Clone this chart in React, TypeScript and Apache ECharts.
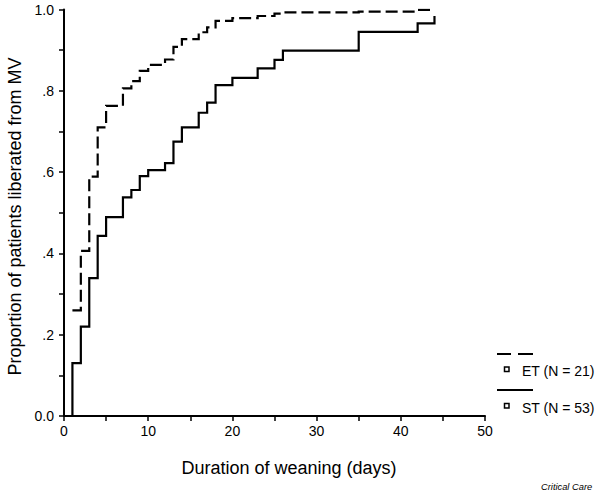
import React, { useEffect, useRef } from "react";
import * as echarts from "echarts";

// Kaplan-Meier style step data: [day, proportion liberated after that day]
const etDays = [1, 2, 3, 4, 5, 7, 8, 9, 10, 12, 13, 14, 16, 17, 18, 20, 23, 25, 26, 35, 42, 44];
const etValues = [0.26, 0.406, 0.589, 0.71, 0.763, 0.806, 0.824, 0.849, 0.864, 0.877, 0.908, 0.927, 0.944, 0.956, 0.972, 0.979, 0.984, 0.99, 0.993, 0.995, 0.999, 1.0];

const stDays = [0, 1, 2, 3, 4, 5, 7, 8, 9, 10, 12, 13, 14, 16, 17, 18, 20, 23, 25, 26, 35, 42, 44];
const stValues = [0, 0.13, 0.22, 0.339, 0.443, 0.489, 0.538, 0.556, 0.59, 0.605, 0.622, 0.675, 0.71, 0.746, 0.771, 0.814, 0.832, 0.855, 0.876, 0.899, 0.945, 0.966, 0.984];

const yTickLabels = ["0.0", ".2", ".4", ".6", ".8", "1.0"];
const xTickLabels = ["0", "10", "20", "30", "40", "50"];

const legendLabels = ["ET (N = 21)", "ST (N = 53)"];
const xTitle = "Duration of weaning (days)";
const yTitle = "Proportion of patients liberated from MV";
const credit = "Critical Care";

const FONT = "'Liberation Sans', Arial, Helvetica, sans-serif";

export default function App() {
  const ref = useRef<HTMLDivElement>(null);

  useEffect(() => {
    if (!ref.current) return;
    const chart = echarts.init(ref.current, undefined, { renderer: "svg" });

    const etData = etDays.map((d, i) => [d, etValues[i]]);
    const stData = stDays.map((d, i) => [d, stValues[i]]);

    const axisCommon = {
      axisLine: { show: true, lineStyle: { color: "#000", width: 2 } },
      axisTick: { show: true, length: 5, lineStyle: { color: "#000", width: 1.5 } },
      minorTick: { show: true, splitNumber: 2, length: 5, lineStyle: { color: "#000", width: 1.5 } },
      splitLine: { show: false },
      minorSplitLine: { show: false },
    };

    chart.setOption({
      animation: false,
      backgroundColor: "#fff",
      grid: { left: 64, right: 115, top: 9.5, bottom: 76, containLabel: false },
      xAxis: {
        type: "value",
        min: 0,
        max: 50,
        interval: 10,
        ...axisCommon,
        axisLabel: {
          margin: 8,
          color: "#000",
          fontSize: 14,
          fontFamily: FONT,
          formatter: (v: number) => xTickLabels[Math.round(v / 10)] ?? "",
        },
      },
      yAxis: {
        type: "value",
        min: 0,
        max: 1,
        interval: 0.2,
        ...axisCommon,
        axisLabel: {
          margin: 10,
          color: "#000",
          fontSize: 14,
          fontFamily: FONT,
          formatter: (v: number) => yTickLabels[Math.round(v / 0.2)] ?? "",
        },
      },
      series: [
        {
          name: "ST",
          type: "line",
          step: "end",
          data: stData,
          showSymbol: false,
          symbol: "none",
          lineStyle: { color: "#000", width: 2.2, cap: "butt", join: "miter" },
          z: 2,
        },
        {
          name: "ET",
          type: "line",
          step: "end",
          data: etData,
          showSymbol: false,
          symbol: "none",
          lineStyle: { color: "#000", width: 2.2, type: [12, 5], cap: "butt", join: "miter" },
          z: 3,
        },
      ],
      graphic: [
        {
          type: "text",
          x: 289,
          y: 468,
          style: {
            text: xTitle,
            font: `18px ${FONT}`,
            fill: "#000",
            align: "center",
            verticalAlign: "middle",
          },
        },
        {
          type: "text",
          x: 15,
          y: 216.5,
          rotation: Math.PI / 2,
          style: {
            text: yTitle,
            font: `18px ${FONT}`,
            fill: "#000",
            align: "center",
            verticalAlign: "middle",
          },
        },
        // legend: ET (dashed)
        { type: "line", shape: { x1: 497, y1: 354, x2: 511, y2: 354 }, style: { stroke: "#000", lineWidth: 2 } },
        { type: "line", shape: { x1: 518, y1: 354, x2: 533, y2: 354 }, style: { stroke: "#000", lineWidth: 2 } },
        { type: "rect", shape: { x: 504.5, y: 367, width: 4.5, height: 4.5 }, style: { fill: "#fff", stroke: "#000", lineWidth: 1.5 } },
        {
          type: "text",
          x: 522,
          y: 371,
          style: { text: legendLabels[0], font: `14px ${FONT}`, fill: "#000", align: "left", verticalAlign: "middle" },
        },
        // legend: ST (solid)
        { type: "line", shape: { x1: 497, y1: 390, x2: 533, y2: 390 }, style: { stroke: "#000", lineWidth: 2 } },
        { type: "rect", shape: { x: 504.5, y: 403.5, width: 4.5, height: 4.5 }, style: { fill: "#fff", stroke: "#000", lineWidth: 1.5 } },
        {
          type: "text",
          x: 522,
          y: 408,
          style: { text: legendLabels[1], font: `14px ${FONT}`, fill: "#000", align: "left", verticalAlign: "middle" },
        },
        {
          type: "text",
          x: 541,
          y: 487,
          style: { text: credit, font: `italic 9.3px ${FONT}`, fill: "#000", align: "left", verticalAlign: "middle" },
        },
      ],
    });

    return () => chart.dispose();
  }, []);

  return (
    <div
      ref={ref}
      style={{ position: "fixed", left: 0, top: 0, width: 600, height: 492, background: "#fff" }}
    />
  );
}
